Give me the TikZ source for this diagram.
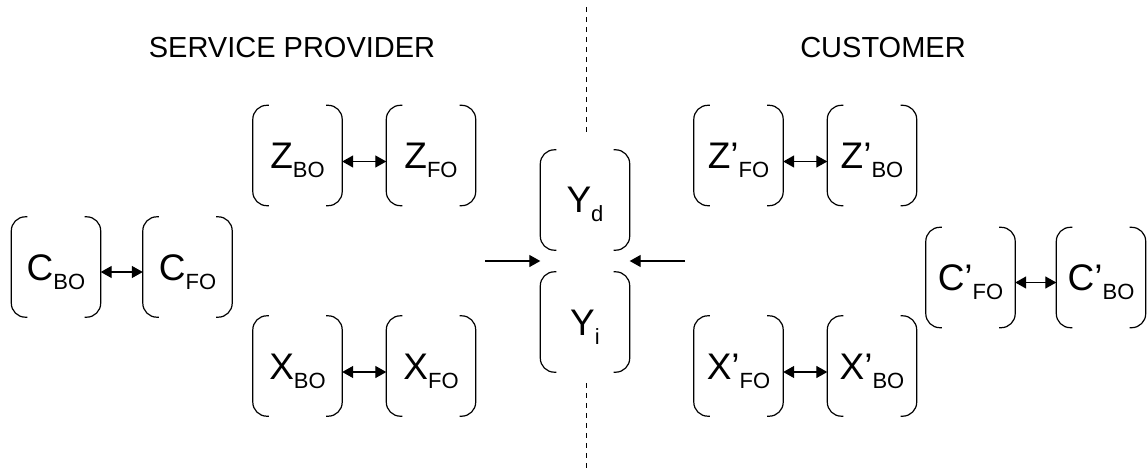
\documentclass[tikz,border=0pt]{standalone}
\usepackage{fontspec}
\setmainfont{Liberation Sans}
\usetikzlibrary{arrows.meta,calc}
\newcommand{\bl}[2]{{\fontsize{37}{37}\selectfont #1\raisebox{-9pt}{\fontsize{22}{22}\selectfont #2}}}
\begin{document}
\begin{tikzpicture}[x=1pt,y=-1pt,
  bbox/.style={minimum width=89pt,minimum height=100pt,inner sep=0pt,text height=26pt,text depth=0pt},
  brk/.style={line width=1.2pt,rounded corners=14pt},
  dbl/.style={line width=1.3pt,{Triangle[length=11pt,width=12pt]}-{Triangle[length=11pt,width=12pt]}},
  sgl/.style={line width=1.3pt,-{Triangle[length=11pt,width=12pt]}},
  divider/.style={line width=1pt,dash pattern=on 5pt off 5pt},
  ttl/.style={font=\fontsize{29}{29}\selectfont,anchor=base,inner sep=0pt}]
\useasboundingbox (0,0) rectangle (1147,470);
\node[ttl] (tsp) at (292,58) {SERVICE PROVIDER};
\node[ttl] (tcu) at (883,58) {CUSTOMER};
\node[bbox] (CBO) at (56,267) {\bl{C}{BO}};
\node[bbox] (CFO) at (187.5,267) {\bl{C}{FO}};
\node[bbox] (ZBO) at (297.5,155.5) {\bl{Z}{BO}};
\node[bbox] (ZFO) at (431,155.5) {\bl{Z}{FO}};
\node[bbox] (XBO) at (297.5,366) {\bl{X}{BO}};
\node[bbox] (XFO) at (431,366) {\bl{X}{FO}};
\node[bbox] (Yd) at (585,200) {\bl{Y}{d}};
\node[bbox] (Yi) at (585,322) {\bl{Y}{i}};
\node[bbox] (ZpFO) at (738.5,155.5) {\bl{Z’}{FO}};
\node[bbox] (ZpBO) at (872,155.5) {\bl{Z’}{BO}};
\node[bbox] (CpFO) at (970.5,277.5) {\bl{C’}{FO}};
\node[bbox] (CpBO) at (1101,277.5) {\bl{C’}{BO}};
\node[bbox] (XpFO) at (738.5,366) {\bl{X’}{FO}};
\node[bbox] (XpBO) at (872,366) {\bl{X’}{BO}};
\foreach \n in {CBO,CFO,ZBO,ZFO,XBO,XFO,Yd,Yi,ZpFO,ZpBO,CpFO,CpBO,XpFO,XpBO}{
  \draw[brk] ([xshift=16pt]\n.north west) -- (\n.north west) -- (\n.south west) -- ([xshift=16pt]\n.south west);
  \draw[brk] ([xshift=-16pt]\n.north east) -- (\n.north east) -- (\n.south east) -- ([xshift=-16pt]\n.south east);
}
\draw[dbl] ([yshift=-5pt]CBO.east) -- ([yshift=-5pt]CFO.west);
\draw[dbl] ([yshift=-6pt]ZBO.east) -- ([yshift=-6pt]ZFO.west);
\draw[dbl] ([yshift=-6pt]XBO.east) -- ([yshift=-6pt]XFO.west);
\draw[dbl] ([yshift=-6pt]ZpFO.east) -- ([yshift=-6pt]ZpBO.west);
\draw[dbl] ([yshift=-5pt]CpFO.east) -- ([yshift=-5pt]CpBO.west);
\draw[dbl] ([yshift=-6pt]XpFO.east) -- ([yshift=-6pt]XpBO.west);
\coordinate (la) at (485,261);
\coordinate (ra) at (685,261);
\draw[sgl] (la) -- (la -| Yd.west);
\draw[sgl] (ra) -- (ra -| Yd.east);
\coordinate (dt1) at (586,7);
\coordinate (dt2) at (586,135);
\coordinate (db1) at (586,383);
\coordinate (db2) at (586,470);
\draw[divider] (dt1) -- (dt2);
\draw[divider] (db1) -- (db2);
\end{tikzpicture}
\end{document}
